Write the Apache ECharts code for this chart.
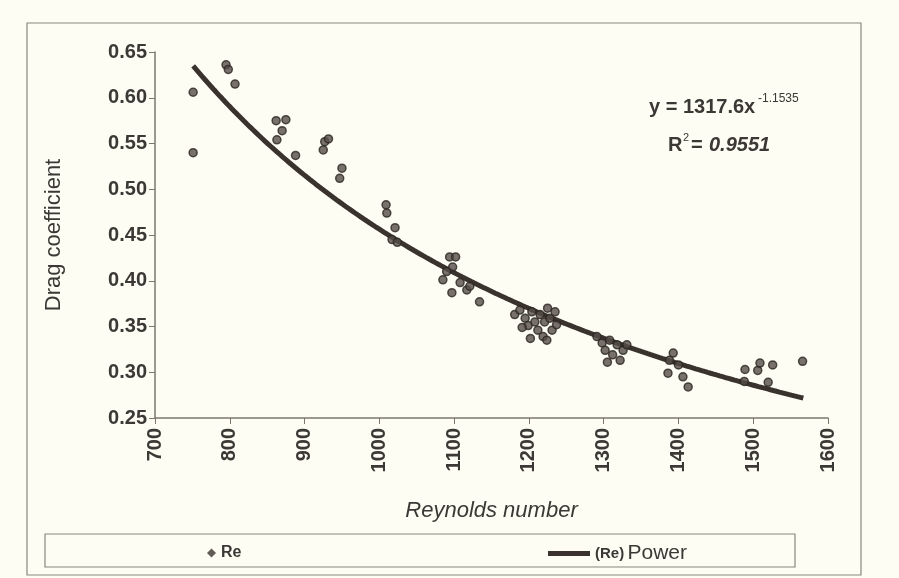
<!DOCTYPE html>
<html>
<head>
<meta charset="utf-8">
<script src="https://cdn.jsdelivr.net/npm/echarts@6/dist/echarts.min.js"></script>
<style>
  html, body { margin: 0; padding: 0; background: #fdfdf3; }
  #chart { width: 899px; height: 578px; }
</style>
</head>
<body>
<div id="chart"></div>
<script>
// Measured drag coefficient against Reynolds number
const reynolds = [
  751, 751, 795, 798, 807,
  862, 875, 870, 863, 888,
  927, 932, 925, 950, 947,
  1009, 1010, 1021, 1017, 1024,
  1094, 1102, 1098, 1085, 1097, 1117, 1134, 1108, 1090, 1121,
  1181, 1188, 1195, 1199, 1204, 1208, 1212, 1215, 1219, 1221,
  1225, 1228, 1231, 1235, 1237, 1191, 1202, 1224,
  1291, 1298, 1302, 1308, 1312, 1318, 1322, 1326, 1331, 1305,
  1393, 1388, 1386, 1406, 1413, 1400,
  1489, 1488, 1506, 1509, 1526, 1520, 1566
];
const dragCoeff = [
  0.606, 0.540, 0.636, 0.631, 0.615,
  0.575, 0.576, 0.564, 0.554, 0.537,
  0.552, 0.555, 0.543, 0.523, 0.512,
  0.483, 0.474, 0.458, 0.445, 0.442,
  0.426, 0.426, 0.415, 0.401, 0.387, 0.390, 0.377, 0.398, 0.410, 0.394,
  0.363, 0.368, 0.359, 0.351, 0.366, 0.355, 0.346, 0.363, 0.339, 0.355,
  0.370, 0.359, 0.346, 0.366, 0.352, 0.349, 0.337, 0.335,
  0.339, 0.332, 0.324, 0.335, 0.319, 0.330, 0.313, 0.324, 0.330, 0.311,
  0.321, 0.313, 0.299, 0.295, 0.284, 0.308,
  0.303, 0.290, 0.302, 0.310, 0.308, 0.289, 0.312
];

// Power trendline y = a * x^b, as printed on the chart
const fitA = 1317.6;
const fitB = -1.1535;
const fitR2 = 0.9551;
const fitRange = [751, 1568];

const xTicks = [700, 800, 900, 1000, 1100, 1200, 1300, 1400, 1500, 1600];
const yTicks = [0.25, 0.30, 0.35, 0.40, 0.45, 0.50, 0.55, 0.60, 0.65];

const points = reynolds.map((x, i) => [x, dragCoeff[i]]);
const fitLine = [];
for (let x = fitRange[0]; x <= fitRange[1]; x += 4) {
  fitLine.push([x, fitA * Math.pow(x, fitB)]);
}

const ink = '#3b3835';
const markInk = '#3a322d';
const font = '"Liberation Sans", Arial, sans-serif';

const chart = echarts.init(document.getElementById('chart'), null, { renderer: 'canvas' });
chart.setOption({
  backgroundColor: '#fdfdf3',
  animation: false,
  grid: { left: 155, right: 71, top: 52, bottom: 160 },
  xAxis: {
    type: 'value',
    min: xTicks[0], max: xTicks[xTicks.length - 1], interval: 100,
    name: 'Reynolds number',
    nameLocation: 'middle',
    nameGap: 82,
    nameTextStyle: { fontFamily: font, fontSize: 22, fontStyle: 'italic', color: ink },
    axisLine: { show: true, lineStyle: { color: '#7a776f', width: 1.5 } },
    axisTick: { show: true, length: 6, lineStyle: { color: '#7a776f' } },
    axisLabel: {
      rotate: 90, margin: 10, fontFamily: font, fontSize: 20, fontWeight: 'bold', color: ink,
      formatter: v => String(v)
    },
    splitLine: { show: false }
  },
  yAxis: {
    type: 'value',
    min: yTicks[0], max: yTicks[yTicks.length - 1], interval: 0.05,
    name: 'Drag coefficient',
    nameLocation: 'middle',
    nameGap: 90,
    nameRotate: 90,
    nameTextStyle: { fontFamily: font, fontSize: 22, color: ink },
    axisLine: { show: true, lineStyle: { color: '#7a776f', width: 1.5 } },
    axisTick: { show: true, length: 6, lineStyle: { color: '#7a776f' } },
    axisLabel: {
      margin: 8, fontFamily: font, fontSize: 20, fontWeight: 'bold', color: ink,
      formatter: v => v.toFixed(2)
    },
    splitLine: { show: false }
  },
  legend: [
    {
      data: [{ name: 'Re', icon: 'diamond', itemStyle: { color: markInk, borderWidth: 0 } }],
      left: 202, top: 540,
      itemWidth: 9, itemHeight: 9, itemGap: 10,
      textStyle: { fontFamily: font, fontSize: 16, fontWeight: 'bold', color: ink }
    },
    {
      data: [{ name: '(Re) Power', icon: 'rect' }],
      left: 543, top: 538,
      itemWidth: 42, itemHeight: 5, itemGap: 2,
      formatter: () => '{b|(Re)} {p|Power}',
      textStyle: {
        fontFamily: font, color: ink,
        rich: {
          b: { fontFamily: font, fontSize: 15, fontWeight: 'bold', color: ink },
          p: { fontFamily: font, fontSize: 21, color: ink }
        }
      }
    }
  ],
  series: [
    {
      name: 'Re',
      type: 'scatter',
      data: points,
      symbol: 'circle',
      symbolSize: 8,
      itemStyle: { color: '#564e48', borderColor: '#2a2521', borderWidth: 1.5 },
      z: 3
    },
    {
      name: '(Re) Power',
      type: 'line',
      data: fitLine,
      showSymbol: false,
      symbol: 'none',
      lineStyle: { color: markInk, width: 5 },
      itemStyle: { color: markInk },
      z: 2
    }
  ],
  graphic: [
    {
      type: 'rect', silent: true, z: -1,
      shape: { x: 27, y: 23, width: 834, height: 552 },
      style: { fill: 'none', stroke: '#8a877f', lineWidth: 1.2 }
    },
    {
      type: 'rect', silent: true, z: -1,
      shape: { x: 45, y: 534, width: 750, height: 33 },
      style: { fill: 'none', stroke: '#8a877f', lineWidth: 1.2 }
    },
    {
      type: 'text', left: 649, top: 97,
      style: { text: 'y = ' + fitA.toFixed(1) + 'x', font: 'bold 20px ' + font, fill: ink }
    },
    {
      type: 'text', left: 758, top: 93,
      style: { text: fitB.toFixed(4), font: '12px ' + font, fill: ink }
    },
    {
      type: 'text', left: 668, top: 135,
      style: { text: 'R', font: 'bold 20px ' + font, fill: ink }
    },
    {
      type: 'text', left: 683, top: 132,
      style: { text: '2', font: '11px ' + font, fill: ink }
    },
    {
      type: 'text', left: 691, top: 135,
      style: { text: '= ', font: 'bold 20px ' + font, fill: ink }
    },
    {
      type: 'text', left: 709, top: 135,
      style: { text: fitR2.toFixed(4), font: 'italic bold 20px ' + font, fill: ink }
    }
  ]
});
</script>
</body>
</html>
